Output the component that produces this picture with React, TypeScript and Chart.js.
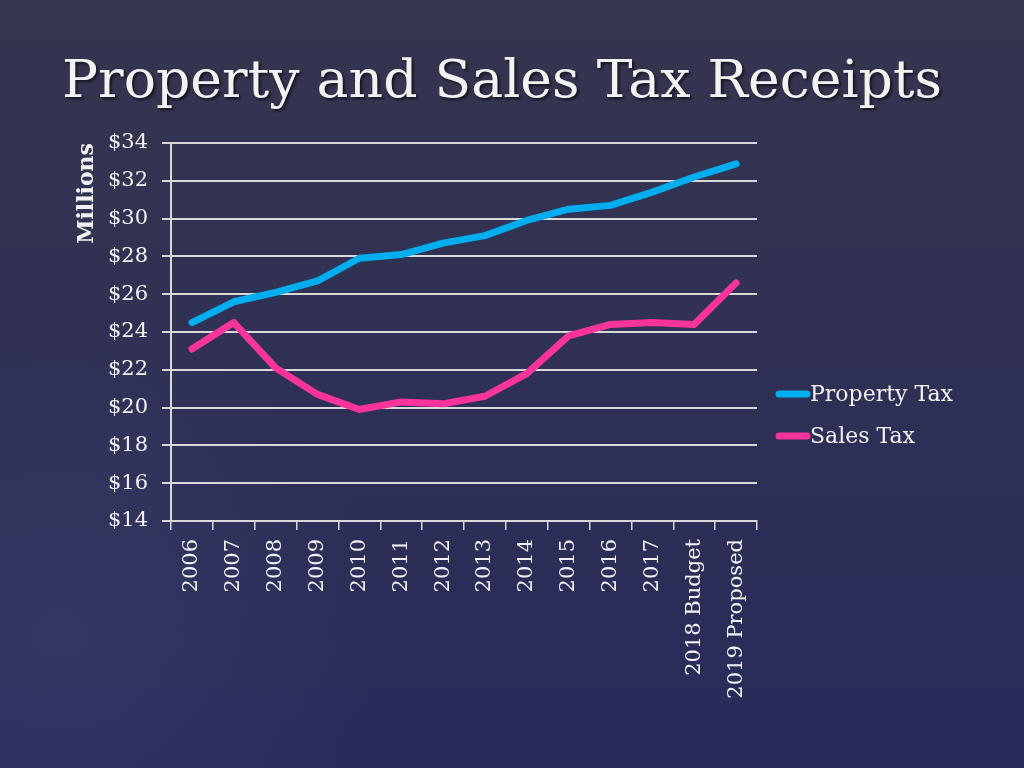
import React, { useEffect, useRef } from "react";
import { Chart, registerables } from "chart.js";

Chart.register(...registerables);

const chartTitle = "Property and Sales Tax Receipts";
const axisTitle = "Millions";
const categories = [
  "2006", "2007", "2008", "2009", "2010", "2011", "2012", "2013",
  "2014", "2015", "2016", "2017", "2018 Budget", "2019 Proposed",
];
const propertyTax = [24.5, 25.6, 26.1, 26.7, 27.9, 28.1, 28.7, 29.1, 29.9, 30.5, 30.7, 31.4, 32.2, 32.9];
const salesTax = [23.1, 24.5, 22.1, 20.7, 19.9, 20.3, 20.2, 20.6, 21.8, 23.8, 24.4, 24.5, 24.4, 26.6];
const seriesNames = ["Property Tax", "Sales Tax"];
const yMin = 14;
const yMax = 34;
const yStep = 2;

const SERIF = "'DejaVu Serif', 'Liberation Serif', serif";
const TEXT = "#f2f2f2";
const GRID = "#d9d9d9";
const BLUE = "#00aeef";
const PINK = "#f8349a";

const backgroundPlugin = {
  id: "bg",
  beforeDraw(chart: any) {
    const { ctx, width, height } = chart;
    ctx.save();
    const g = ctx.createLinearGradient(0, 0, 0, height);
    g.addColorStop(0, "#36354f");
    g.addColorStop(0.5, "#2f3055");
    g.addColorStop(1, "#282b5b");
    ctx.fillStyle = g;
    ctx.fillRect(0, 0, width, height);
    const r = ctx.createRadialGradient(60, 640, 0, 60, 640, 320);
    r.addColorStop(0, "rgba(70,75,120,0.35)");
    r.addColorStop(1, "rgba(70,75,120,0)");
    ctx.fillStyle = r;
    ctx.fillRect(0, 0, width, height);
    // title
    ctx.font = `53px ${SERIF}`;
    ctx.textBaseline = "alphabetic";
    ctx.textAlign = "left";
    ctx.shadowColor = "rgba(0,0,0,0.65)";
    ctx.shadowOffsetX = 2;
    ctx.shadowOffsetY = 2;
    ctx.shadowBlur = 3;
    ctx.fillStyle = TEXT;
    const w = ctx.measureText(chartTitle).width;
    const sx = 880 / w;
    ctx.translate(62, 97);
    ctx.scale(sx, 1);
    ctx.fillText(chartTitle, 0, 0);
    ctx.restore();
  },
};

const legendPlugin = {
  id: "sideLegend",
  afterDraw(chart: any) {
    const { ctx, chartArea } = chart;
    ctx.save();
    chart.data.datasets.forEach((ds: any, i: number) => {
      const y = chartArea.bottom - 127 + i * 42;
      const x0 = chartArea.right + 22;
      ctx.strokeStyle = ds.borderColor;
      ctx.lineWidth = 7;
      ctx.lineCap = "round";
      ctx.beginPath();
      ctx.moveTo(x0, y);
      ctx.lineTo(x0 + 28, y);
      ctx.stroke();
      ctx.font = `22px ${SERIF}`;
      ctx.fillStyle = TEXT;
      ctx.textBaseline = "middle";
      ctx.textAlign = "left";
      ctx.fillText(ds.label, x0 + 31, y + 1);
    });
    ctx.restore();
  },
};

export default function App() {
  const ref = useRef<HTMLCanvasElement | null>(null);

  useEffect(() => {
    document.body.style.margin = "0";
    const canvas = ref.current;
    if (!canvas) return;
    const chart = new Chart(canvas, {
      type: "line",
      data: {
        labels: categories,
        datasets: [
          {
            label: seriesNames[0],
            data: propertyTax,
            borderColor: BLUE,
            backgroundColor: BLUE,
            borderWidth: 7,
            pointRadius: 0,
            borderCapStyle: "round",
            borderJoinStyle: "round",
            tension: 0,
          },
          {
            label: seriesNames[1],
            data: salesTax,
            borderColor: PINK,
            backgroundColor: PINK,
            borderWidth: 7,
            pointRadius: 0,
            borderCapStyle: "round",
            borderJoinStyle: "round",
            tension: 0,
          },
        ],
      },
      options: {
        responsive: false,
        animation: false,
        devicePixelRatio: 1,
        layout: { padding: { left: 0, right: 267, top: 143, bottom: 0 } },
        plugins: {
          legend: { display: false },
          title: { display: false },
          tooltip: { enabled: false },
        },
        scales: {
          x: {
            type: "category",
            offset: true,
            afterFit(scale: any) {
              scale.height = 247;
            },
            grid: {
              offset: true,
              drawOnChartArea: false,
              drawTicks: true,
              tickLength: 9,
              color: GRID,
              lineWidth: 1.5,
            },
            border: { display: true, color: GRID, width: 2 },
            ticks: {
              color: TEXT,
              font: { family: SERIF, size: 21 },
              minRotation: 90,
              maxRotation: 90,
              autoSkip: false,
              padding: 9,
            },
          },
          y: {
            min: yMin,
            max: yMax,
            afterFit(scale: any) {
              scale.width = 171;
            },
            ticks: {
              stepSize: yStep,
              color: TEXT,
              font: { family: SERIF, size: 21 },
              padding: 14,
              callback: (v: any) => "$" + v,
            },
            grid: {
              color: GRID,
              lineWidth: 2,
              tickLength: 9,
            },
            border: { display: true, color: GRID, width: 2 },
            title: {
              display: true,
              text: axisTitle,
              align: "end",
              color: TEXT,
              font: { family: SERIF, size: 22, weight: "bold" },
              padding: { top: 74, bottom: 0 },
            },
          },
        },
      },
      plugins: [backgroundPlugin, legendPlugin],
    } as any);
    return () => chart.destroy();
  }, []);

  return (
    <div style={{ position: "absolute", left: 0, top: 0, width: 1024, height: 768 }}>
      <canvas ref={ref} width={1024} height={768} style={{ display: "block" }} />
    </div>
  );
}
